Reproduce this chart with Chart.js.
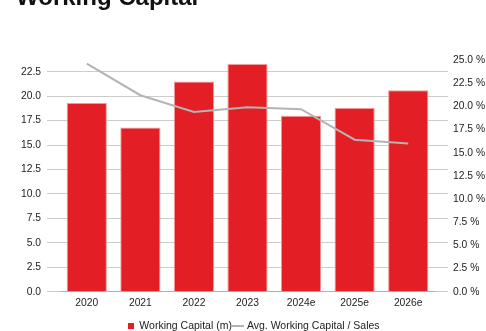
<!DOCTYPE html>
<html>
<head>
<meta charset="utf-8">
<script src="https://cdn.jsdelivr.net/npm/chart.js@4/dist/chart.umd.min.js"></script>
<style>
  html, body { margin: 0; padding: 0; width: 486px; height: 331px; overflow: hidden; background: #fff; }
  #title { position: absolute; left: 16px; top: -15.5px; font: bold 24px 'Liberation Sans', Arial, sans-serif; line-height: 24px; color: #111; white-space: nowrap; }
  #wrap { position: absolute; left: 0; top: 0; }
</style>
</head>
<body>
<div id="wrap"><canvas id="c" width="486" height="341"></canvas></div>
<div id="title">Working Capital</div>
<script>
const categories = ['2020', '2021', '2022', '2023', '2024e', '2025e', '2026e'];
const workingCapital = [19.3, 16.8, 21.5, 23.3, 18.0, 18.8, 20.6];
const wcToSales = [24.6, 21.2, 19.4, 19.9, 19.7, 16.4, 16.0];
const seriesNames = ['Working Capital (m)', 'Avg. Working Capital / Sales'];

const RED = '#e31e24';
const GREY_LINE = '#b4b4b4';
const GRID = '#cccccc';

function symbolCanvas(w, h, color) {
  const cv = document.createElement('canvas');
  cv.width = w; cv.height = h;
  const cx = cv.getContext('2d');
  cx.fillStyle = color;
  cx.fillRect(0, 0, w, h);
  return cv;
}
const rectSym = symbolCanvas(6, 6, RED);
const lineSym = symbolCanvas(12, 2, GREY_LINE);

Chart.defaults.font.family = "'Liberation Sans', Arial, sans-serif";
Chart.defaults.font.size = 10.3;
Chart.defaults.color = '#222';

new Chart(document.getElementById('c'), {
  type: 'bar',
  data: {
    labels: categories,
    datasets: [
      {
        type: 'bar',
        label: seriesNames[0],
        data: workingCapital,
        yAxisID: 'y',
        backgroundColor: RED,
        borderColor: '#f19a9c',
        borderWidth: 1,
        barPercentage: 0.75,
        categoryPercentage: 1.0,
        order: 1
      },
      {
        type: 'line',
        label: seriesNames[1],
        data: wcToSales,
        yAxisID: 'y1',
        borderColor: GREY_LINE,
        backgroundColor: GREY_LINE,
        borderWidth: 2,
        pointRadius: 0,
        tension: 0,
        fill: false,
        order: 0
      }
    ]
  },
  options: {
    responsive: false,
    animation: false,
    layout: { padding: { top: 60, left: 21, right: 0, bottom: 0 } },
    plugins: {
      tooltip: { enabled: false },
      legend: {
        position: 'bottom',
        labels: {
          usePointStyle: true,
          boxWidth: 6.7,
          boxHeight: 10,
          padding: 3,
          font: { size: 10.5 },
          color: '#222',
          sort: (a, b) => a.datasetIndex - b.datasetIndex,
          generateLabels: (chart) => {
            const items = Chart.defaults.plugins.legend.labels.generateLabels(chart);
            items.forEach(it => { it.pointStyle = it.datasetIndex === 0 ? rectSym : lineSym; });
            return items;
          }
        }
      }
    },
    scales: {
      x: {
        offset: true,
        grid: { display: true, drawOnChartArea: false, drawTicks: false },
        border: { display: true, color: '#b0b0b0', width: 1 },
        ticks: { padding: 5, color: '#222' },
        afterFit: (s) => { s.height = 25.75; }
      },
      y: {
        position: 'left',
        min: 0,
        max: 23.7,
        grid: { color: GRID, drawTicks: true, tickLength: 13 },
        border: { display: false },
        ticks: { stepSize: 2.5, includeBounds: false, padding: 6, callback: (v) => v.toFixed(1) },
        afterFit: (s) => { s.width = 39; }
      },
      y2: {
        position: 'right',
        weight: 0,
        min: 0,
        max: 23.7,
        grid: { color: GRID, drawOnChartArea: false, drawTicks: true, tickLength: 13 },
        border: { display: false },
        ticks: { display: false, stepSize: 2.5, includeBounds: false },
        afterFit: (s) => { s.width = 13; }
      },
      y1: {
        position: 'right',
        weight: 1,
        min: 0,
        max: 25,
        grid: { display: false, drawTicks: false },
        border: { display: false },
        ticks: { stepSize: 2.5, padding: 5, callback: (v) => v.toFixed(1) + ' %' },
        afterFit: (s) => { s.width = 38; }
      }
    }
  }
});
</script>
</body>
</html>
